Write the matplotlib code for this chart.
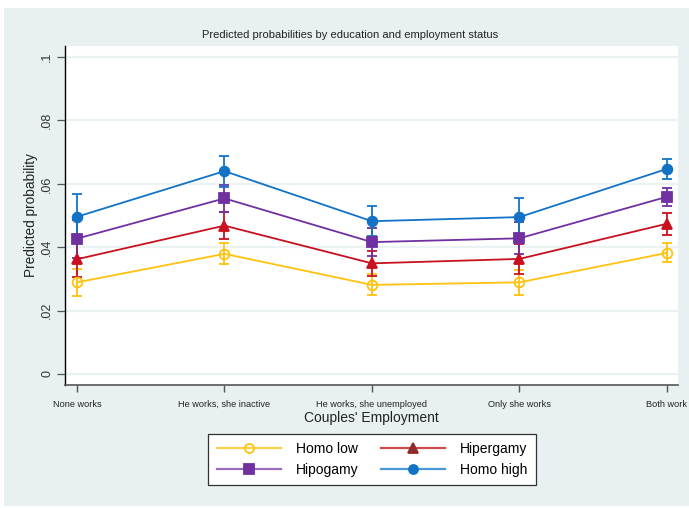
import matplotlib
matplotlib.use("Agg")
import matplotlib.pyplot as plt
from matplotlib.patches import Rectangle
from matplotlib.lines import Line2D
import numpy as np

plt.rcParams['font.family'] = ['Liberation Sans', 'DejaVu Sans']

categories = ["None works", "He works, she inactive", "He works, she unemployed",
              "Only she works", "Both work"]
series = ["Homo low", "Hipergamy", "Hipogamy", "Homo high"]
homo_low = [0.0289, 0.0379, 0.0281, 0.0289, 0.0382]
homo_low_ci = [0.0042, 0.0033, 0.0033, 0.0040, 0.0030]
hipergamy = [0.0362, 0.0468, 0.0349, 0.0363, 0.0474]
hipergamy_ci = [0.0055, 0.0043, 0.0040, 0.0048, 0.0034]
hipogamy = [0.0427, 0.0554, 0.0416, 0.0428, 0.0559]
hipogamy_ci = [0.0060, 0.0042, 0.0045, 0.0050, 0.0029]
homo_high = [0.0496, 0.0640, 0.0482, 0.0495, 0.0647]
homo_high_ci = [0.0071, 0.0049, 0.0047, 0.0060, 0.0031]
yticks = [0, 0.02, 0.04, 0.06, 0.08, 0.1]
ytick_labels = ["0", ".02", ".04", ".06", ".08", ".1"]

values = [homo_low, hipergamy, hipogamy, homo_high]
cis = [homo_low_ci, hipergamy_ci, hipogamy_ci, homo_high_ci]
colors = ["#FFC20E", "#C8101E", "#7030A0", "#1273C6"]
markers = ["o", "^", "s", "o"]
mfc = ["none", "#C8101E", "#7030A0", "#1273C6"]
leg_line = ["#FFCF4A", "#CF4B4B", "#9B6CC0", "#4A98D8"]
leg_mark = ["#FFC20E", "#8E2B2B", "#7030A0", "#1273C6"]

W, H = 689, 508
fig = plt.figure(figsize=(W / 100, H / 100), dpi=100, facecolor="white")
bg = "#E8F0F2"
fig.patches.append(Rectangle((4 / W, 2 / H), 1 - 4 / W, 1 - 10 / H,
                             transform=fig.transFigure, facecolor=bg,
                             edgecolor="none", zorder=-10))

ax = fig.add_axes([65 / W, 1 - 385 / H, (678 - 65) / W, (385 - 46) / H])
ax.set_zorder(1)
ax.set_facecolor("white")
x = np.arange(1, len(categories) + 1)

for vals, ci, c in zip(values, cis, colors):
    ax.errorbar(x, vals, yerr=ci, fmt="none", ecolor=c, elinewidth=1.3,
                capsize=3.5, capthick=1.3, zorder=2)
for vals, c, m, fc, name in zip(values, colors, markers, mfc, series):
    ax.plot(x, vals, color=c, marker=m, markersize=7,
            markerfacecolor=fc, markeredgecolor=c, markeredgewidth=1.3,
            linewidth=1.3, label=name, zorder=3)

ax.set_xlim(0.919, 5.075)
ax.set_ylim(-0.0035, 0.1035)
ax.set_yticks(yticks)
ax.set_yticklabels(ytick_labels, rotation=90, va="center", fontsize=9,
                   color="#333333")
ax.set_xticks(x)
ax.set_xticklabels(categories, fontsize=6.6, color="#222222")
ax.grid(axis="y", color="#EAF2F3", linewidth=1.6, zorder=1)
ax.set_axisbelow(True)
for s in ["top", "right"]:
    ax.spines[s].set_visible(False)
ax.spines["left"].set_color("black")
ax.spines["left"].set_linewidth(1.0)
ax.spines["bottom"].set_color("#555555")
ax.spines["bottom"].set_linewidth(1.2)
ax.tick_params(axis="y", length=5.5, width=0.9, color="#555555", pad=3)
ax.tick_params(axis="x", length=5, width=1.0, color="#555555", pad=6)

ax.set_ylabel("Predicted probability", fontsize=9.8, color="#222222", labelpad=2)
ax.set_xlabel("Couples' Employment", fontsize=10, color="#222222", labelpad=1)
fig.text(350 / W, 1 - 35 / H, "Predicted probabilities by education and employment status",
         ha="center", va="center", fontsize=8, color="#222222")

handles = []
for lc, mc, m, name in zip(leg_line, leg_mark, markers, series):
    fc = "none" if name == "Homo low" else mc
    handles.append(Line2D([], [], color=lc, linewidth=1.6, marker=m,
                          markersize=6.5, markerfacecolor=fc,
                          markeredgecolor=mc, markeredgewidth=1.3, label=name))
order = [handles[0], handles[2], handles[1], handles[3]]
leg = fig.legend(order, [h.get_label() for h in order], ncol=2,
                 loc="center", bbox_to_anchor=(372 / W, 1 - 459.5 / H),
                 fontsize=10, frameon=True, fancybox=False, edgecolor="#333333",
                 facecolor="white", framealpha=1, handlelength=4.6,
                 columnspacing=1.6, handletextpad=1.1, borderpad=0.6,
                 labelspacing=0.5)
leg.get_frame().set_linewidth(0.9)

fig.savefig("out.png", dpi=100, facecolor="white")
